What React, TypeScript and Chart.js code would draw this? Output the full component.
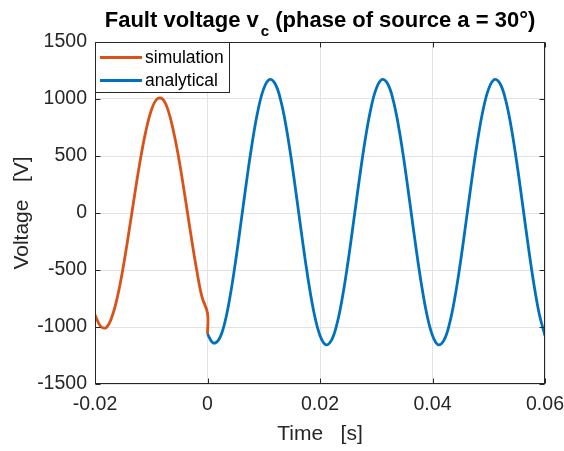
import { useEffect, useRef } from "react";
import { Chart, registerables } from "chart.js";

Chart.register(...registerables);

// ---------------- data ----------------
const simulationTime = [
  -0.02, -0.019, -0.018, -0.017, -0.016, -0.015, -0.014, -0.013, -0.012, -0.011,
  -0.01, -0.009, -0.008, -0.007, -0.006, -0.005, -0.004, -0.003, -0.002, -0.001,
  0, 0,
];
const simulationVoltage = [
  -893, -994, -1005, -913, -733, -478, -176, 144, 450, 709,
  899, 999, 1000, 900, 706, 450, 144, -176, -478, -733,
  -880, -1062,
];

const analyticalTime = [
  0, 0.001, 0.002, 0.003, 0.004, 0.005, 0.006, 0.007, 0.008, 0.009,
  0.01, 0.011, 0.012, 0.013, 0.014, 0.015, 0.016, 0.017, 0.018, 0.019,
  0.02, 0.021, 0.022, 0.023, 0.024, 0.025, 0.026, 0.027, 0.028, 0.029,
  0.03, 0.031, 0.032, 0.033, 0.034, 0.035, 0.036, 0.037, 0.038, 0.039,
  0.04, 0.041, 0.042, 0.043, 0.044, 0.045, 0.046, 0.047, 0.048, 0.049,
  0.05, 0.051, 0.052, 0.053, 0.054, 0.055, 0.056, 0.057, 0.058, 0.059,
  0.06,
];
const analyticalVoltage = [
  -1062, -1140, -1112, -976, -735, -421, -65, 298, 632, 906,
  1091, 1171, 1136, 992, 751, 437, 81, -282, -616, -890,
  -1075, -1155, -1120, -976, -735, -421, -65, 298, 632, 906,
  1091, 1171, 1136, 992, 751, 437, 81, -282, -616, -890,
  -1075, -1155, -1120, -976, -735, -421, -65, 298, 632, 906,
  1091, 1171, 1136, 992, 751, 437, 81, -282, -616, -890,
  -1077,
];

const seriesLabels = ["simulation", "analytical"];
const xTickValues = [-0.02, 0, 0.02, 0.04, 0.06];
const yTickValues = [-1500, -1000, -500, 0, 500, 1000, 1500];

const titleMain = "Fault voltage v";
const titleSub = "c";
const titleRest = " (phase of source a = 30°)";
const xLabel = "Time   [s]";
const yLabel = "Voltage   [V]";

// ---------------- styles ----------------
const ORANGE = "#D95319";
const BLUE = "#0072BD";
const AXIS = "#262626";
const GRID = "#e3e3e3";
const FONT = '"Liberation Sans", Arial, Helvetica, sans-serif';

export default function App() {
  const ref = useRef<HTMLCanvasElement>(null);

  useEffect(() => {
    const canvas = ref.current;
    if (!canvas) return;

    const decor = {
      id: "matlabDecor",
      afterDraw(chart: any) {
        const { ctx } = chart;
        const { left, right, top, bottom } = chart.chartArea;
        const xs = chart.scales.x;
        const ys = chart.scales.y;
        ctx.save();

        // box
        const L = Math.round(left) + 0.5;
        const R = Math.round(right) - 0.5;
        const T = Math.round(top) + 0.5;
        const B = Math.round(bottom) - 0.5;
        ctx.strokeStyle = AXIS;
        ctx.lineWidth = 1;
        ctx.strokeRect(L, T, R - L, B - T);

        // inward ticks
        const tl = 5;
        ctx.beginPath();
        xTickValues.forEach((v) => {
          const px = Math.round(xs.getPixelForValue(v)) + 0.5;
          ctx.moveTo(px, B);
          ctx.lineTo(px, B - tl);
          ctx.moveTo(px, T);
          ctx.lineTo(px, T + tl);
        });
        yTickValues.forEach((v) => {
          const py = Math.round(ys.getPixelForValue(v)) + 0.5;
          ctx.moveTo(L, py);
          ctx.lineTo(L + tl, py);
          ctx.moveTo(R, py);
          ctx.lineTo(R - tl, py);
        });
        ctx.stroke();

        // legend
        const lx = L, ly = T, lw = 134, lh = 50;
        ctx.fillStyle = "#ffffff";
        ctx.fillRect(lx, ly, lw, lh);
        ctx.strokeStyle = AXIS;
        ctx.lineWidth = 1;
        ctx.strokeRect(lx, ly, lw, lh);
        const colors = [ORANGE, BLUE];
        const rows = [57.5, 80.5];
        ctx.font = `17.5px ${FONT}`;
        ctx.textBaseline = "middle";
        ctx.textAlign = "left";
        seriesLabels.forEach((lab, i) => {
          ctx.strokeStyle = colors[i];
          ctx.lineWidth = 2.8;
          ctx.beginPath();
          ctx.moveTo(100, rows[i]);
          ctx.lineTo(142, rows[i]);
          ctx.stroke();
          ctx.fillStyle = "#000000";
          ctx.fillText(lab, 145, rows[i] + 0.5);
        });

        // title
        ctx.textBaseline = "alphabetic";
        ctx.fillStyle = "#000000";
        const mainFont = `bold 22px ${FONT}`;
        const subFont = `bold 15px ${FONT}`;
        ctx.font = mainFont;
        const w1 = ctx.measureText(titleMain).width;
        const w3 = ctx.measureText(titleRest).width;
        ctx.font = subFont;
        const w2 = ctx.measureText(titleSub).width;
        const total = w1 + 2 + w2 + w3;
        const cx = (left + right) / 2;
        let tx = cx - total / 2;
        ctx.font = mainFont;
        ctx.fillText(titleMain, tx, 27);
        tx += w1 + 2;
        ctx.font = subFont;
        ctx.fillText(titleSub, tx, 36);
        tx += w2;
        ctx.font = mainFont;
        ctx.fillText(titleRest, tx, 27);

        // axis labels
        ctx.fillStyle = AXIS;
        ctx.font = `21px ${FONT}`;
        ctx.textAlign = "center";
        ctx.fillText(xLabel, cx, 440);
        ctx.save();
        ctx.translate(27.7, (top + bottom) / 2);
        ctx.rotate(-Math.PI / 2);
        ctx.fillText(yLabel, 0, 0);
        ctx.restore();

        ctx.restore();
      },
    };

    const chart = new Chart(canvas, {
      type: "line",
      data: {
        datasets: [
          {
            label: seriesLabels[0],
            data: simulationTime.map((t, i) => ({ x: t, y: simulationVoltage[i] })),
            borderColor: ORANGE,
            backgroundColor: ORANGE,
            borderWidth: 2.8,
            tension: 0.4,
            pointRadius: 0,
            fill: false,
            order: 2,
          },
          {
            label: seriesLabels[1],
            data: analyticalTime.map((t, i) => ({ x: t, y: analyticalVoltage[i] })),
            borderColor: BLUE,
            backgroundColor: BLUE,
            borderWidth: 2.8,
            tension: 0.4,
            pointRadius: 0,
            fill: false,
            order: 1,
          },
        ],
      },
      options: {
        responsive: false,
        animation: false,
        devicePixelRatio: 1,
        layout: { padding: { top: 42, right: 19, bottom: 0, left: 0 } },
        plugins: {
          legend: { display: false },
          title: { display: false },
          tooltip: { enabled: false },
        },
        scales: {
          x: {
            type: "linear",
            min: -0.02,
            max: 0.06,
            afterBuildTicks: (s: any) => {
              s.ticks = xTickValues.map((v) => ({ value: v }));
            },
            ticks: {
              font: { family: FONT, size: 19.5 },
              color: AXIS,
              padding: 9,
              maxRotation: 0,
              autoSkip: false,
              callback: (v: any) => {
                const n = Number(v);
                if (Math.abs(n) < 1e-9) return "0";
                return String(Math.round(n * 100) / 100);
              },
            },
            grid: { color: GRID, drawTicks: false, lineWidth: 1 },
            border: { display: false },
            afterFit: (s: any) => {
              s.height = 67;
              s.paddingLeft = 0;
              s.paddingRight = 0;
            },
          },
          y: {
            type: "linear",
            min: -1500,
            max: 1500,
            afterBuildTicks: (s: any) => {
              s.ticks = yTickValues.map((v) => ({ value: v }));
            },
            ticks: {
              font: { family: FONT, size: 19.5 },
              color: AXIS,
              padding: 8,
              autoSkip: false,
              callback: (v: any) => String(v),
            },
            grid: { color: GRID, drawTicks: false, lineWidth: 1 },
            border: { display: false },
            afterFit: (s: any) => {
              s.width = 95;
              s.paddingTop = 0;
              s.paddingBottom = 0;
            },
          },
        },
      },
      plugins: [decor],
    });

    return () => chart.destroy();
  }, []);

  return (
    <div style={{ position: "absolute", left: 0, top: 0, width: 564, height: 451, background: "#ffffff" }}>
      <canvas ref={ref} width={564} height={451} style={{ display: "block" }} />
    </div>
  );
}
